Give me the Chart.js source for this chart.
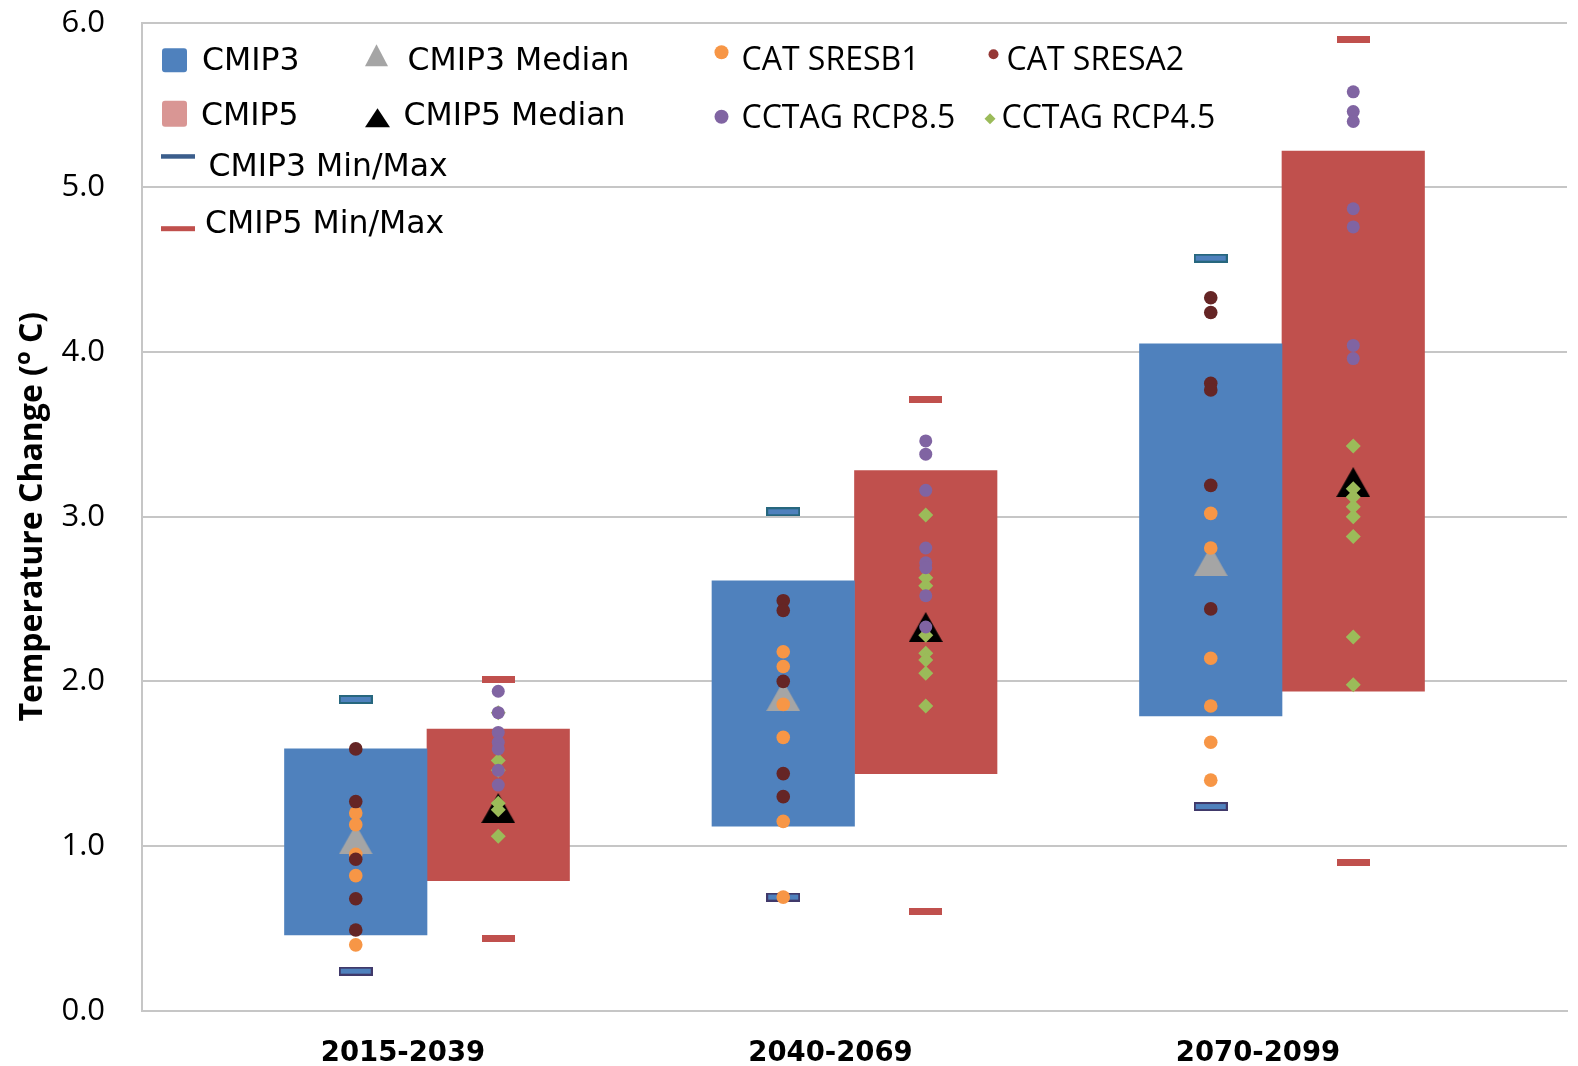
<!DOCTYPE html>
<html>
<head>
<meta charset="utf-8">
<title>Temperature Change</title>
<script src="https://cdn.jsdelivr.net/npm/chart.js@4.4.1/dist/chart.umd.min.js"></script>
<style>
  html, body { margin: 0; padding: 0; background: #ffffff; }
  #wrap { width: 1578px; height: 1066px; }
</style>
</head>
<body>
<div id="wrap"><canvas id="chart" width="1578" height="1066"></canvas></div>
<script>
// ---- data ---------------------------------------------------------------
const periods = ['2015-2039', '2040-2069', '2070-2099'];

// model ranges (floating bars)
const cmip3Low  = [0.46, 1.12, 1.79];
const cmip3High = [1.59, 2.61, 4.05];
const cmip5Low  = [0.79, 1.44, 1.94];
const cmip5High = [1.71, 3.28, 5.22];

// ensemble extremes
const cmip3Min = [0.24, 0.69, 1.24];
const cmip3Max = [1.89, 3.03, 4.57];
const cmip5Min = [0.44, 0.60, 0.90];
const cmip5Max = [2.01, 3.71, 5.90];

// ensemble medians
const cmip3Median = [1.04, 1.91, 2.73];
const cmip5Median = [1.23, 2.33, 3.21];

// individual projections, one list per period
const catSresB1 = [
  [1.20, 1.13, 0.95, 0.82, 0.40],
  [2.18, 2.09, 1.86, 1.66, 1.15, 0.69],
  [3.02, 2.81, 2.14, 1.85, 1.63, 1.40]
];
const catSresA2 = [
  [1.59, 1.27, 0.92, 0.68, 0.49],
  [2.49, 2.43, 2.00, 1.44, 1.30],
  [4.33, 4.24, 3.81, 3.77, 3.19, 2.44]
];
const cctagRcp85 = [
  [1.94, 1.81, 1.69, 1.63, 1.59, 1.46, 1.37],
  [3.46, 3.38, 3.16, 2.81, 2.72, 2.69, 2.52, 2.33],
  [5.58, 5.46, 5.40, 4.87, 4.76, 4.04, 3.96]
];
const cctagRcp45 = [
  [1.81, 1.52, 1.46, 1.26, 1.22, 1.06],
  [3.01, 2.63, 2.58, 2.28, 2.17, 2.13, 2.05, 1.85],
  [3.43, 3.17, 3.12, 3.06, 3.00, 2.88, 2.27, 1.98]
];

// ---- colours --------------------------------------------------------------
const C = {
  cmip3: '#4F81BD',
  cmip5: '#C0504D',
  cmip5Key: '#D99694',
  medianGrey: '#A5A5A5',
  medianBlack: '#000000',
  b1: '#F79646',
  a2: '#652525',
  a2Key: '#953735',
  rcp85: '#8064A2',
  rcp45: '#9BBB59',
  minMax3Key: '#3B5E8C',
  grid: '#C6C6C6'
};

// each period owns three slots on the x axis: CMIP3 column, CMIP5 column, gap
const col3 = i => 3 * i;
const col5 = i => 3 * i + 1;

// ---- marker images ----------------------------------------------------------
function markerCanvas(w, h, paint) {
  const c = document.createElement('canvas');
  c.width = w; c.height = h;
  paint(c.getContext('2d'), w, h);
  return c;
}
const triangle = color => markerCanvas(34, 30, (g, w, h) => {
  g.fillStyle = color;
  g.beginPath(); g.moveTo(w / 2, 0); g.lineTo(w, h); g.lineTo(0, h); g.closePath(); g.fill();
});
const boxedDash = edge => markerCanvas(34, 9, (g, w, h) => {
  g.fillStyle = edge; g.fillRect(0, 0, w, h);
  g.fillStyle = C.cmip3; g.fillRect(2, 2, w - 4, h - 4);
});
const solidDash = markerCanvas(33, 7, (g, w, h) => { g.fillStyle = C.cmip5; g.fillRect(0, 0, w, h); });

const pointsAt = (lists, col) => lists.flatMap((vals, i) => vals.map(v => ({ x: col(i), y: v })));
const singleAt = (vals, col) => vals.map((v, i) => ({ x: col(i), y: v }));

function markerSet(label, data, style, order) {
  return { type: 'scatter', label, data, pointStyle: style, pointRadius: 10, order };
}
function dotSet(label, data, color, style, radius, order) {
  return {
    type: 'scatter', label, data, pointStyle: style, pointRadius: radius,
    backgroundColor: color, borderColor: color, borderWidth: 0, order
  };
}

// ---- legend and axis title -----------------------------------------------------
const keyAndTitle = {
  id: 'keyAndTitle',
  afterDraw(chart) {
    const ctx = chart.ctx;
    const L = chart.chartArea.left, T = chart.chartArea.top;
    ctx.save();
    ctx.textBaseline = 'alphabetic';
    ctx.textAlign = 'left';
    ctx.fillStyle = '#000';

    const left = '31.5px "DejaVu Sans"';
    const right = '32px "Open Sans"';
    const text = (s, x, y, font) => { ctx.font = font; ctx.fillStyle = '#000'; ctx.fillText(s, L + x, T + y); };
    const rr = (x, y, w, h, r, col) => {
      ctx.fillStyle = col; ctx.beginPath();
      ctx.roundRect(L + x, T + y, w, h, r); ctx.fill();
    };
    const tri = (x, y, w, h, col) => {
      ctx.fillStyle = col; ctx.beginPath();
      ctx.moveTo(L + x + w / 2, T + y); ctx.lineTo(L + x + w, T + y + h); ctx.lineTo(L + x, T + y + h);
      ctx.closePath(); ctx.fill();
    };
    const dot = (x, y, r, col) => { ctx.fillStyle = col; ctx.beginPath(); ctx.arc(L + x, T + y, r, 0, Math.PI * 2); ctx.fill(); };
    const diamond = (x, y, r, col) => {
      ctx.fillStyle = col; ctx.beginPath();
      ctx.moveTo(L + x, T + y - r); ctx.lineTo(L + x + r, T + y); ctx.lineTo(L + x, T + y + r); ctx.lineTo(L + x - r, T + y);
      ctx.closePath(); ctx.fill();
    };

    // row 1
    rr(20, 25.5, 25, 24, 3, C.cmip3);           text('CMIP3', 60, 47, left);
    tri(223, 21.5, 23, 22, C.medianGrey);        text('CMIP3 Median', 265.5, 47, left);
    dot(579.5, 29.5, 7, C.b1);                   text('CAT SRESB1', 599.5, 47, right);
    dot(851.5, 31.5, 5, C.a2Key);                text('CAT SRESA2', 864.5, 47, right);
    // row 2
    rr(20, 78, 25, 26, 3, C.cmip5Key);          text('CMIP5', 59, 102.5, left);
    tri(223, 85.5, 25, 19, C.medianBlack);       text('CMIP5 Median', 261.5, 102.5, left);
    dot(579.5, 94, 7, C.rcp85);                  text('CCTAG RCP8.5', 599.5, 105.5, right);
    diamond(848, 96, 5.5, C.rcp45);              text('CCTAG RCP4.5', 859.5, 105.5, right);
    // rows 3 and 4
    ctx.fillStyle = C.minMax3Key; ctx.fillRect(L + 19, T + 131.5, 34, 4.5);
    text('CMIP3 Min/Max', 66.5, 153, left);
    ctx.fillStyle = C.cmip5; ctx.fillRect(L + 19, T + 203.5, 34, 5);
    text('CMIP5 Min/Max', 63, 210.5, left);
    ctx.restore();

    // vertical axis title with superscript degree mark
    const main = 'Temperature Change (', sup = 'o', tail = ' C)';
    const bold = 'bold 32px "Open Sans"', supFont = 'bold 22px "Open Sans"';
    ctx.save();
    ctx.font = bold; const w1 = ctx.measureText(main).width, w3 = ctx.measureText(tail).width;
    ctx.font = supFont; const w2 = ctx.measureText(sup).width;
    const total = w1 + w2 + w3;
    const cy = (chart.chartArea.top + chart.chartArea.bottom) / 2;
    ctx.translate(42, cy);
    ctx.rotate(-Math.PI / 2);
    ctx.fillStyle = '#000';
    ctx.textBaseline = 'alphabetic';
    ctx.textAlign = 'left';
    let u = -total / 2;
    ctx.font = bold; ctx.fillText(main, u, 0); u += w1;
    ctx.font = supFont; ctx.fillText(sup, u, -12); u += w2;
    ctx.font = bold; ctx.fillText(tail, u, 0);
    ctx.restore();
  }
};

// ---- chart -------------------------------------------------------------------
new Chart(document.getElementById('chart'), {
  type: 'bar',
  data: {
    datasets: [
      // individual projections (drawn on top)
      dotSet('CAT SRESA2', pointsAt(catSresA2, col3), C.a2, 'circle', 6.8, 1),
      dotSet('CAT SRESB1', pointsAt(catSresB1, col3), C.b1, 'circle', 6.8, 2),
      dotSet('CCTAG RCP8.5', pointsAt(cctagRcp85, col5), C.rcp85, 'circle', 6.5, 1),
      dotSet('CCTAG RCP4.5', pointsAt(cctagRcp45, col5), C.rcp45, 'rectRot', 7.5, 2),
      // medians
      markerSet('CMIP3 Median', singleAt(cmip3Median, col3), triangle(C.medianGrey), 6),
      markerSet('CMIP5 Median', singleAt(cmip5Median, col5), triangle(C.medianBlack), 6),
      // extremes
      markerSet('CMIP3 Max', singleAt(cmip3Max, col3), boxedDash('#27677E'), 8),
      markerSet('CMIP3 Min', singleAt(cmip3Min, col3), boxedDash('#40396A'), 8),
      markerSet('CMIP5 Min/Max', singleAt(cmip5Max, col5).concat(singleAt(cmip5Min, col5)), solidDash, 8),
      // ranges
      {
        type: 'bar', label: 'CMIP3', order: 10,
        data: periods.map((p, i) => ({ x: col3(i), y: [cmip3Low[i], cmip3High[i]] })),
        backgroundColor: C.cmip3, borderWidth: 0,
        grouped: false, barPercentage: 1, categoryPercentage: 1
      },
      {
        type: 'bar', label: 'CMIP5', order: 10,
        data: periods.map((p, i) => ({ x: col5(i), y: [cmip5Low[i], cmip5High[i]] })),
        backgroundColor: C.cmip5, borderWidth: 0,
        grouped: false, barPercentage: 1, categoryPercentage: 1
      }
    ]
  },
  options: {
    responsive: false,
    animation: false,
    devicePixelRatio: 1,
    layout: { padding: { top: 22.7, right: 8, left: 0, bottom: 0 } },
    plugins: { legend: { display: false }, tooltip: { enabled: false } },
    scales: {
      x: {
        type: 'linear',
        min: -1.5, max: 8.5,
        bounds: 'data',
        offset: false,
        afterBuildTicks: scale => { scale.ticks = periods.map((p, i) => ({ value: 3 * i + 0.5 })); },
        afterFit: scale => { scale.height = 55.3; },
        ticks: {
          callback: (value, index) => periods[index],
          autoSkip: false, maxRotation: 0, minRotation: 0,
          font: { family: 'DejaVu Sans', weight: 'bold', size: 27.5 },
          color: '#000',
          padding: 19,
          labelOffset: -24
        },
        grid: { display: false, offset: false },
        border: { display: true, color: C.grid, width: 2 }
      },
      y: {
        min: 0, max: 6,
        afterFit: scale => { scale.width = 142; scale.paddingTop = 0; scale.paddingBottom = 0; },
        ticks: {
          stepSize: 1,
          callback: v => Number(v).toFixed(1),
          font: { family: 'Open Sans', size: 31 },
          color: '#000',
          padding: 37
        },
        grid: { color: C.grid, lineWidth: 2, drawTicks: false },
        border: { display: true, color: C.grid, width: 2 }
      }
    }
  },
  plugins: [keyAndTitle]
});
</script>
</body>
</html>
